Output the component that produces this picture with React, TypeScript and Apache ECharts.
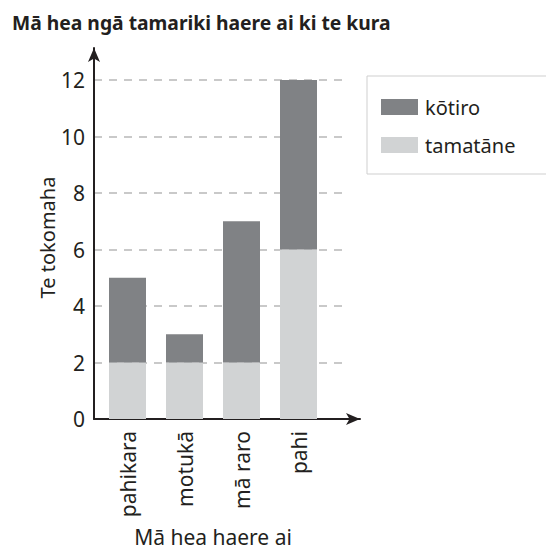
import React, { useEffect, useRef } from "react";
import * as echarts from "echarts";

const categories = ["pahikara", "motukā", "mā raro", "pahi"];
const tamataneValues = [2, 2, 2, 6];
const kotiroValues = [3, 1, 5, 6];
const yTicks = { min: 0, max: 12, interval: 2 };

const FONT = "'Noto Sans', sans-serif";
const TEXT = "#231f20";

export default function App() {
  const ref = useRef<HTMLDivElement>(null);
  useEffect(() => {
    if (!ref.current) return;
    const chart = echarts.init(ref.current, undefined, { renderer: "svg" });
    const arrowAxis = {
      type: "value",
      min: 0,
      max: 1,
      axisLine: {
        show: true,
        lineStyle: { color: TEXT, width: 2 },
        symbol: ["none", "arrow"],
        symbolSize: [9, 14],
      },
      axisTick: { show: false },
      axisLabel: { show: false },
      splitLine: { show: false },
    };
    chart.setOption({
      animation: false,
      backgroundColor: "#ffffff",
      textStyle: { fontFamily: FONT },
      title: {
        text: "Mā hea ngā tamariki haere ai ki te kura",
        left: 7,
        top: 8,
        textStyle: { fontFamily: FONT, fontSize: 19.3, fontWeight: "bold", color: TEXT },
      },
      legend: {
        orient: "vertical",
        left: 367,
        top: 76,
        padding: [21, 75, 19, 14],
        itemWidth: 37,
        itemHeight: 16,
        itemGap: 18,
        borderColor: "#cfcfcf",
        borderWidth: 1,
        icon: "rect",
        data: ["kōtiro", "tamatāne"],
        textStyle: { fontFamily: FONT, fontSize: 20, color: TEXT, padding: [0, 0, 0, 2] },
      },
      grid: [
        { left: 99, right: 219, top: 80, bottom: 130, outerBoundsMode: "none" },
        { left: 94, right: 204, top: 80, bottom: 130, outerBoundsMode: "none" },
        { left: 94, right: 186, top: 48, bottom: 130, outerBoundsMode: "none" },
      ],
      xAxis: [
        {
          type: "category",
          gridIndex: 0,
          data: categories,
          axisLine: { show: false },
          axisTick: { show: false },
          splitLine: { show: false },
          axisLabel: {
            rotate: 90,
            margin: 12,
            fontFamily: FONT,
            fontSize: 21,
            color: TEXT,
          },
          name: "Mā hea haere ai",
          nameLocation: "middle",
          nameGap: 107,
          nameTextStyle: { fontFamily: FONT, fontSize: 21, color: TEXT },
        },
        {
          type: "value",
          gridIndex: 1,
          show: false,
        },
        { ...arrowAxis, gridIndex: 2 },
      ],
      yAxis: [
        {
          type: "value",
          gridIndex: 0,
          min: yTicks.min,
          max: yTicks.max,
          interval: yTicks.interval,
          show: false,
        },
        {
          type: "value",
          gridIndex: 1,
          min: yTicks.min,
          max: yTicks.max,
          interval: yTicks.interval,
          axisLine: { show: false },
          axisTick: { show: false },
          axisLabel: { margin: 9, fontFamily: FONT, fontSize: 21, color: TEXT },
          splitLine: {
            show: true,
            lineStyle: { color: "#b8b8b8", type: [8, 7], width: 1.5 },
          },
          name: "Te tokomaha",
          nameLocation: "middle",
          nameRotate: 90,
          nameGap: 32,
          nameTextStyle: { fontFamily: FONT, fontSize: 20, color: TEXT, padding: [0, 0, 0, 24] },
        },
        { ...arrowAxis, gridIndex: 2 },
      ],
      series: [
        {
          name: "tamatāne",
          type: "bar",
          stack: "total",
          xAxisIndex: 0,
          yAxisIndex: 0,
          barWidth: 37,
          itemStyle: { color: "#d1d3d4" },
          data: tamataneValues,
        },
        {
          name: "kōtiro",
          type: "bar",
          stack: "total",
          xAxisIndex: 0,
          yAxisIndex: 0,
          barWidth: 37,
          itemStyle: { color: "#808285" },
          data: kotiroValues,
        },
      ],
    });
    return () => chart.dispose();
  }, []);
  return (
    <div
      ref={ref}
      style={{ position: "fixed", left: 0, top: 0, width: 546, height: 549 }}
    />
  );
}
